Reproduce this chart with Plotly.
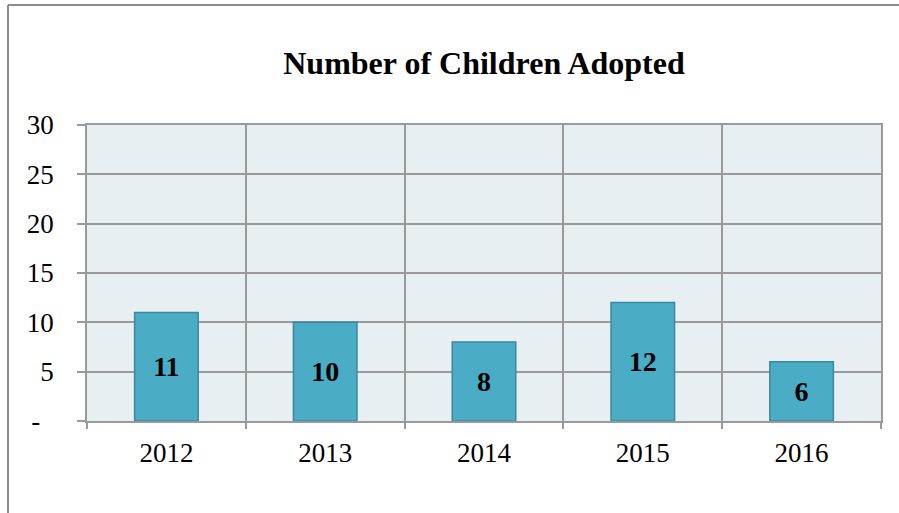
import plotly.graph_objects as go

years = ["2012", "2013", "2014", "2015", "2016"]
adopted = [11, 10, 8, 12, 6]
y_tickvals = [0, 5, 10, 15, 20, 25, 30]
y_ticktext = ["-\u00a0\u00a0", "5", "10", "15", "20", "25", "30"]
title_text = "Number of Children Adopted"

FONT = "Liberation Serif, Times New Roman, serif"
GRID = "#9a9a9a"

fig = go.Figure()
fig.add_trace(go.Bar(
    x=years, y=adopted,
    marker=dict(color="#4bacc6", line=dict(color="#3a87a0", width=1.5)),
    width=0.40,
    text=[str(v) for v in adopted],
    textposition="inside",
    insidetextanchor="middle",
    textangle=0,
    textfont=dict(family=FONT, size=28, color="black", weight="bold"),
    cliponaxis=False,
))

fig.update_layout(
    width=899, height=513,
    margin=dict(l=87, r=18, t=125, b=92),
    paper_bgcolor="white",
    plot_bgcolor="#e8eff3",
    showlegend=False,
    title=dict(text="<b>" + title_text + "</b>", x=0.5, xref="paper", xanchor="center",
               y=1 - 63 / 513, yref="container", yanchor="middle",
               font=dict(family=FONT, size=32, color="black")),
    font=dict(family=FONT, size=27, color="black"),
    shapes=[
        dict(type="line", xref="paper", yref="paper",
             x0=-79 / 794, x1=-79 / 794, y0=(421 - 513) / 296 - 0.1, y1=(421 - 5) / 296,
             line=dict(color="#8c8c8c", width=2)),
        dict(type="line", xref="paper", yref="paper",
             x0=-79 / 794, x1=(899 - 87) / 794 + 0.1, y0=(421 - 5) / 296, y1=(421 - 5) / 296,
             line=dict(color="#8c8c8c", width=2)),
    ],
)

fig.update_xaxes(
    type="category",
    tickson="boundaries",
    showgrid=True, gridcolor=GRID, gridwidth=1.5,
    showline=True, linecolor=GRID, linewidth=1.5, mirror=True,
    ticks="outside", ticklen=6, tickcolor=GRID, tickwidth=1.5,
    ticklabelstandoff=7,
    tickfont=dict(family=FONT, size=27, color="black"),
)
fig.update_yaxes(
    range=[0, 30],
    tickvals=y_tickvals, ticktext=y_ticktext,
    showgrid=True, gridcolor=GRID, gridwidth=1.5,
    showline=True, linecolor=GRID, linewidth=1.5, mirror=True,
    ticks="outside", ticklen=8, tickcolor=GRID, tickwidth=1.5,
    ticklabelstandoff=18,
    tickfont=dict(family=FONT, size=27, color="black"),
    zeroline=False,
)

fig.write_html("out.html", config={"displayModeBar": False},
               post_script="document.body.style.margin='0';document.body.style.overflow='hidden';")
